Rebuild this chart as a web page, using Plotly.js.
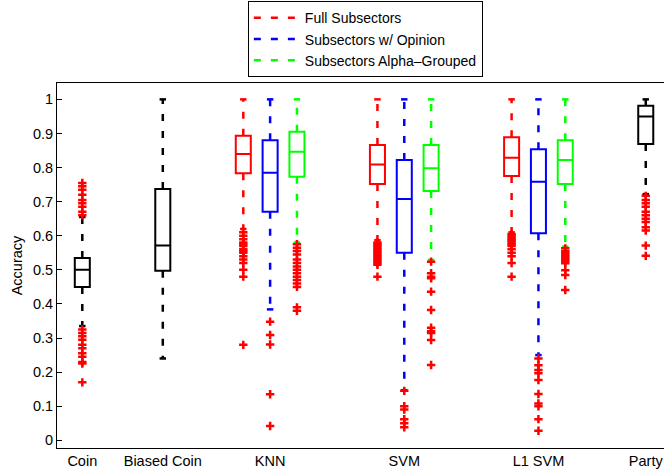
<!DOCTYPE html>
<html>
<head>
<meta charset="utf-8">
<script src="https://cdn.plot.ly/plotly-3.0.1.min.js"></script>
<style>html,body{margin:0;padding:0;background:#fff;overflow:hidden}</style>
</head>
<body>
<div id="chart" style="width:664px;height:470px"></div>
<script>
// ---- data ----
const categories = ["Coin", "Biased Coin", "KNN", "SVM", "L1 SVM", "Party"];
const categoryPositions = [0, 3, 7, 12, 17, 21];

// one entry per box
const boxPositions = [0, 3, 6, 7, 8, 11, 12, 13, 16, 17, 18, 21];
const boxSeries = ["base", "base", "full", "opinion", "alpha", "full", "opinion", "alpha", "full", "opinion", "alpha", "base"];
const seriesNames = ["Full Subsectors", "Subsectors w/ Opinion", "Subsectors Alpha–Grouped"];
const seriesKeys = ["full", "opinion", "alpha"];
const seriesColors = {base: "#000000", full: "#ff0000", opinion: "#0000ff", alpha: "#00ff00"};

const q1 =      [0.450, 0.497, 0.783, 0.670, 0.773, 0.752, 0.550, 0.731, 0.775, 0.607, 0.752, 0.869];
const medians = [0.500, 0.571, 0.840, 0.785, 0.846, 0.809, 0.708, 0.798, 0.829, 0.758, 0.822, 0.950];
const q3 =      [0.535, 0.737, 0.893, 0.880, 0.905, 0.866, 0.822, 0.866, 0.889, 0.854, 0.880, 0.981];
const lowerWhisker = [0.335, 0.240, 0.620, 0.384, 0.580, 0.587, 0.147, 0.529, 0.610, 0.250, 0.568, 0.722];
const upperWhisker = [0.655, 1.000, 1.000, 1.000, 1.000, 1.000, 1.000, 1.000, 1.000, 1.000, 1.000, 1.000];

const outliers = [
  [0.755, 0.745, 0.735, 0.72, 0.705, 0.695, 0.685, 0.67, 0.66,
   0.325, 0.315, 0.305, 0.295, 0.28, 0.27, 0.255, 0.245, 0.23, 0.225, 0.17],
  [],
  [0.61, 0.60, 0.59, 0.58, 0.575, 0.57, 0.56, 0.555, 0.55, 0.54, 0.53, 0.52, 0.50, 0.48, 0.28],
  [0.348, 0.309, 0.281, 0.135, 0.042],
  [0.575, 0.565, 0.555, 0.545, 0.53, 0.52, 0.51, 0.50, 0.49, 0.48, 0.47, 0.46, 0.45, 0.39, 0.38],
  [0.58, 0.575, 0.57, 0.565, 0.56, 0.555, 0.55, 0.545, 0.54, 0.535, 0.53, 0.525, 0.52, 0.515, 0.48],
  [0.145, 0.10, 0.09, 0.062, 0.05, 0.038],
  [0.524, 0.49, 0.48, 0.475, 0.436, 0.382, 0.33, 0.32, 0.315, 0.294, 0.221],
  [0.605, 0.60, 0.595, 0.59, 0.585, 0.58, 0.575, 0.57, 0.56, 0.55, 0.54, 0.52, 0.48],
  [0.24, 0.22, 0.206, 0.197, 0.177, 0.136, 0.108, 0.10, 0.062, 0.028],
  [0.563, 0.555, 0.55, 0.545, 0.54, 0.535, 0.53, 0.525, 0.519, 0.499, 0.485, 0.441],
  [0.717, 0.705, 0.695, 0.685, 0.67, 0.66, 0.65, 0.64, 0.625, 0.615, 0.571, 0.541]
];

const yTickValues = [0, 0.1, 0.2, 0.3, 0.4, 0.5, 0.6, 0.7, 0.8, 0.9, 1];

// ---- style ----
const FONT = "Liberation Sans, Arial, Helvetica, sans-serif";
const BOX_WIDTH = 0.56;
const CAP_HALF = 0.12;

const traces = [];

// whiskers (dashed) grouped per colour
function whiskerTrace(key, name, showlegend) {
  const xs = [], ys = [];
  boxPositions.forEach((p, i) => {
    if (boxSeries[i] !== key) return;
    xs.push(p, p, null, p, p, null);
    ys.push(q3[i], upperWhisker[i], null, q1[i], lowerWhisker[i], null);
  });
  return {
    type: "scatter", mode: "lines", x: xs, y: ys, name: name,
    showlegend: showlegend, hoverinfo: "skip",
    line: {color: seriesColors[key], width: 2.5, dash: "7px,10px"}
  };
}
seriesKeys.forEach((k, j) => traces.push(whiskerTrace(k, seriesNames[j], true)));
traces.push(whiskerTrace("base", "base", false));

// whisker caps (solid)
["base", ...seriesKeys].forEach(key => {
  const xs = [], ys = [];
  boxPositions.forEach((p, i) => {
    if (boxSeries[i] !== key) return;
    xs.push(p - CAP_HALF, p + CAP_HALF, null, p - CAP_HALF, p + CAP_HALF, null);
    ys.push(upperWhisker[i], upperWhisker[i], null, lowerWhisker[i], lowerWhisker[i], null);
  });
  traces.push({type: "scatter", mode: "lines", x: xs, y: ys, showlegend: false,
    hoverinfo: "skip", line: {color: seriesColors[key], width: 2.5}});
});

// boxes
boxPositions.forEach((p, i) => {
  traces.push({
    type: "box", x: [p], q1: [q1[i]], median: [medians[i]], q3: [q3[i]],
    lowerfence: [q1[i]], upperfence: [q3[i]], width: BOX_WIDTH, whiskerwidth: 0,
    boxpoints: false, showlegend: false, hoverinfo: "skip",
    line: {color: seriesColors[boxSeries[i]], width: 2},
    fillcolor: "rgba(0,0,0,0)"
  });
});

// outliers
const ox = [], oy = [];
outliers.forEach((arr, i) => arr.forEach(v => { ox.push(boxPositions[i]); oy.push(v); }));
traces.push({
  type: "scatter", mode: "markers", x: ox, y: oy, showlegend: false, hoverinfo: "skip",
  marker: {symbol: "cross-thin", size: 6, color: "#ff0000", line: {color: "#ff0000", width: 2.5}}
});

const layout = {
  width: 664, height: 470,
  margin: {l: 57, r: 0, t: 83, b: 22, pad: 0},
  paper_bgcolor: "#ffffff", plot_bgcolor: "#ffffff",
  font: {family: FONT, size: 14, color: "#000000"},
  showlegend: true,
  boxmode: "overlay",
  legend: {
    x: 0.508, xanchor: "center", y: 1.224, yanchor: "top",
    bordercolor: "#000000", borderwidth: 1, bgcolor: "#ffffff",
    font: {family: FONT, size: 14, color: "#000000"},
    itemwidth: 46,
    traceorder: "normal"
  },
  xaxis: {
    range: [-0.943, 21.68], tickmode: "array", tickvals: categoryPositions, ticktext: categories,
    ticks: "", showline: true, mirror: true, linecolor: "#000000", linewidth: 1,
    showgrid: false, zeroline: false, fixedrange: true,
    tickfont: {family: FONT, size: 14.5, color: "#000000"}
  },
  yaxis: {
    range: [-0.0226, 1.048], tickmode: "array", tickvals: yTickValues,
    ticktext: yTickValues.map(v => String(v)),
    ticks: "inside", ticklen: 5, tickwidth: 1, tickcolor: "#000000",
    showline: true, mirror: false, linecolor: "#000000", linewidth: 1,
    showgrid: false, zeroline: false, fixedrange: true,
    tickfont: {family: FONT, size: 14.5, color: "#000000"},
    title: {text: "Accuracy", font: {family: FONT, size: 14.5, color: "#000000"}, standoff: 6}
  }
};

Plotly.newPlot("chart", traces, layout, {displayModeBar: false, staticPlot: true});
</script>
</body>
</html>
